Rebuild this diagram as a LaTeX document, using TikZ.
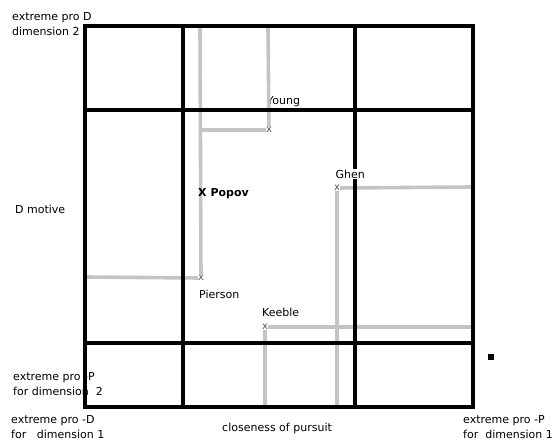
\documentclass[tikz,border=0pt]{standalone}
\usepackage{fontspec}
\setmainfont{DejaVu Sans}
\usetikzlibrary{positioning}
\definecolor{GridInk}{HTML}{000000}
\definecolor{PathGray}{HTML}{C4C4C4}
\definecolor{MarkGray}{HTML}{555555}

\begin{document}
\begin{tikzpicture}[x=1pt,y=-1pt]
\tikzset{b/.style={GridInk,line width=3.6pt},g/.style={PathGray,line width=3.6pt},mk/.style={inner sep=0pt,text=MarkGray,font=\fontsize{10}{10}\selectfont},t/.style={inner sep=0pt,anchor=base west,font=\fontsize{11}{14.5}\selectfont,align=left}}
\useasboundingbox (0,0) rectangle (560,440);
% axis texts (base = last line)
\node[t] (top) at (12,35) {extreme pro D\\dimension 2};
\node[t] (mot) at (15,213) {D motive};
\node[t] (low) at (13,395) {extreme pro -P\\for dimension\ \ 2};
\node[t] (orig) at (11,438) {extreme pro -D\\for\ \ \ dimension 1};
\node[t] (clo) at (222,431) {closeness of pursuit};
\node[t] (far) at (463,438) {extreme pro -P\\for\ \ dimension 1};
% people
\node[mk] (y) at (269,130) {x};
\node[mk] (p) at (201,278) {x};
\node[mk] (g) at (337,188) {x};
\node[mk] (k) at (265,327) {x};
\node[t] (ty) at (267,104) {Young};
\node[t] (tp) at (199,298) {Pierson};
\node[t] (tk) at (262,316) {Keeble};
\coordinate (pt) at (200,28);
\coordinate (pl) at (86,277);
\coordinate (yt) at (268,28);
\coordinate (gb) at (337,406);
\coordinate (gr) at (472,187);
\coordinate (kb) at (265,406);
\coordinate (kr) at (472,327);
% grey tracks
\draw[g](pt)--(p);\draw[g](p)--(pl);\draw[g](yt)--(y);\draw[g](y)--(y-|pt);
\draw[g](g)--(gb);\draw[g](g)--(gr);\draw[g](k)--(kb);\draw[g](k)--(kr);
\node[t,font=\fontsize{11}{14.5}\selectfont\bfseries] (po) at (198,196) {X Popov};
% grid
\draw[b] (85,26) rectangle (473,407);
\draw[b] (183,26)--(183,407);\draw[b] (355,26)--(355,407);
\draw[b] (85,110)--(473,110);\draw[b] (85,343)--(475,343);
\fill[GridInk] (488,354) rectangle (494,360);
\node[t,fill=white,inner sep=.5pt] (tg) at (335,178) {Ghen};
\end{tikzpicture}
\end{document}
